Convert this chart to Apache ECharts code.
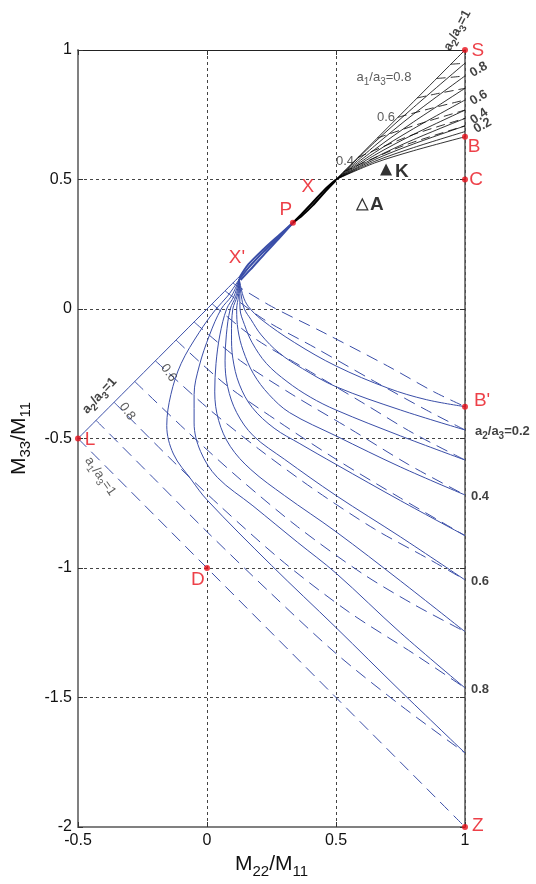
<!DOCTYPE html>
<html>
<head>
<meta charset="utf-8">
<script src="https://cdn.jsdelivr.net/npm/echarts/dist/echarts.min.js"></script>
<style>
html, body { margin: 0; padding: 0; background: #fff; }
#chart { width: 536px; height: 884px; }
</style>
</head>
<body>
<div id="chart"></div>
<script>
// axis ranges
var xRange = [-0.5, 1];
var yRange = [-2, 1];
var tickStep = 0.5;

// upper (black) fan, solid lines a2/a3 = const, ending at x = 1
var blackS10 = [[0.5, 0.5], [0.75, 0.75], [1, 1]];
var blackS09 = [[0.5, 0.5], [0.65, 0.644], [0.8, 0.778], [1, 0.949]];
var blackS08 = [[0.5, 0.5], [0.65, 0.630], [0.8, 0.752], [1, 0.900]];
var blackS07 = [[0.5, 0.5], [0.65, 0.616], [0.8, 0.722], [1, 0.852]];
var blackS06 = [[0.5, 0.5], [0.65, 0.604], [0.8, 0.696], [1, 0.807]];
var blackS05 = [[0.5, 0.5], [0.65, 0.594], [0.8, 0.674], [1, 0.768]];
var blackS04 = [[0.5, 0.5], [0.65, 0.584], [0.8, 0.654], [1, 0.736]];
var blackS03 = [[0.5, 0.5], [0.65, 0.577], [0.8, 0.637], [1, 0.707]];
var blackS02 = [[0.5, 0.5], [0.65, 0.570], [0.8, 0.623], [1, 0.685]];
var blackS01 = [[0.5, 0.5], [0.65, 0.564], [0.8, 0.611], [1, 0.665]];
// upper fan, dashed lines a1/a3 = const
var blackD09 = [[0.945, 0.945], [1, 0.949]];
var blackD08 = [[0.89, 0.89], [0.95, 0.895], [1, 0.900]];
var blackD07 = [[0.815, 0.815], [0.9, 0.833], [1, 0.852]];
var blackD06 = [[0.74, 0.74], [0.87, 0.775], [1, 0.807]];
var blackD05 = [[0.66, 0.66], [0.83, 0.717], [1, 0.768]];
var blackD04 = [[0.585, 0.585], [0.79, 0.67], [1, 0.736]];
var blackD03 = [[0.53, 0.53], [0.76, 0.63], [1, 0.707]];
// strand P -> fan origin
var blackStrandA = [[0.333, 0.333], [0.37, 0.37], [0.41, 0.412], [0.455, 0.46], [0.5, 0.5]];
var blackStrandB = [[0.333, 0.333], [0.37, 0.362], [0.41, 0.4], [0.455, 0.45], [0.5, 0.497]];

// lower (blue) fan, solid lines a2/a3 = const
var blueS10 = [[-0.5, -0.5], [0.125, 0.125]];
var blueS09 = [[0.125, 0.115], [0.08, 0.05], [0.035, 0.0], [-0.03, -0.09], [-0.1, -0.21], [-0.14, -0.33], [-0.156, -0.45], [-0.13, -0.56], [-0.06, -0.66], [0, -0.737], [0.25, -0.99], [0.5, -1.23], [0.75, -1.475], [1, -1.714]];
var blueS08 = [[0.125, 0.115], [0.095, 0.05], [0.055, 0.0], [0.01, -0.1], [-0.03, -0.22], [-0.05, -0.33], [-0.05, -0.44], [-0.025, -0.55], [0.04, -0.65], [0.178, -0.76], [0.35, -0.9], [0.5, -1.02], [0.75, -1.25], [1, -1.463]];
var blueS07 = [[0.125, 0.115], [0.105, 0.05], [0.076, 0.0], [0.05, -0.1], [0.035, -0.21], [0.03, -0.32], [0.045, -0.43], [0.09, -0.53], [0.17, -0.62], [0.3, -0.72], [0.5, -0.86], [0.75, -1.05], [1, -1.246]];
var blueS06 = [[0.125, 0.115], [0.112, 0.05], [0.09, 0.0], [0.075, -0.1], [0.07, -0.2], [0.08, -0.3], [0.115, -0.4], [0.18, -0.49], [0.3, -0.58], [0.5, -0.72], [0.75, -0.88], [1, -1.046]];
var blueS05 = [[0.125, 0.115], [0.117, 0.05], [0.1, 0.0], [0.095, -0.1], [0.1, -0.19], [0.125, -0.29], [0.175, -0.38], [0.26, -0.46], [0.36, -0.52], [0.5, -0.6], [0.75, -0.74], [1, -0.875]];
var blueS04 = [[0.125, 0.115], [0.122, 0.05], [0.115, 0.0], [0.12, -0.08], [0.14, -0.16], [0.18, -0.25], [0.24, -0.33], [0.32, -0.4], [0.5, -0.49], [0.75, -0.61], [1, -0.718]];
var blueS03 = [[0.125, 0.115], [0.127, 0.05], [0.128, 0.0], [0.145, -0.06], [0.175, -0.13], [0.23, -0.21], [0.31, -0.28], [0.4, -0.34], [0.5, -0.39], [0.75, -0.49], [1, -0.583]];
var blueS02 = [[0.125, 0.115], [0.133, 0.05], [0.145, 0.0], [0.17, -0.04], [0.21, -0.1], [0.28, -0.17], [0.37, -0.23], [0.5, -0.30], [0.75, -0.39], [1, -0.467]];
var blueS01 = [[0.125, 0.115], [0.14, 0.05], [0.16, 0.01], [0.21, -0.04], [0.34, -0.13], [0.5, -0.22], [0.7, -0.305], [0.85, -0.35], [1, -0.377]];
// lower fan, dashed lines a1/a3 = const
var blueD10 = [[-0.5, -0.5], [1, -2]];
var blueD09 = [[-0.43, -0.43], [-0.2, -0.66], [0, -0.86], [0.25, -1.1], [0.5, -1.33], [0.75, -1.53], [1, -1.714]];
var blueD08 = [[-0.36, -0.36], [-0.15, -0.57], [0.05, -0.76], [0.3, -0.98], [0.55, -1.17], [0.8, -1.33], [1, -1.463]];
var blueD07 = [[-0.28, -0.28], [-0.08, -0.47], [0.12, -0.65], [0.35, -0.84], [0.6, -1.02], [0.8, -1.14], [1, -1.246]];
var blueD06 = [[-0.2, -0.2], [0, -0.38], [0.2, -0.54], [0.42, -0.7], [0.65, -0.85], [0.85, -0.96], [1, -1.046]];
var blueD05 = [[-0.12, -0.12], [0.07, -0.29], [0.27, -0.43], [0.5, -0.58], [0.75, -0.73], [1, -0.875]];
var blueD04 = [[-0.05, -0.05], [0.13, -0.2], [0.33, -0.33], [0.55, -0.46], [0.78, -0.6], [1, -0.718]];
var blueD03 = [[0.02, 0.02], [0.18, -0.11], [0.38, -0.23], [0.6, -0.36], [0.8, -0.48], [1, -0.583]];
var blueD02 = [[0.07, 0.07], [0.22, -0.04], [0.42, -0.15], [0.65, -0.28], [0.85, -0.39], [1, -0.467]];
var blueD01 = [[0.1, 0.1], [0.25, 0.01], [0.45, -0.09], [0.7, -0.22], [0.88, -0.32], [1, -0.377]];
// strand X' -> P
var blueStrandA = [[0.125, 0.12], [0.16, 0.172], [0.22, 0.232], [0.28, 0.286], [0.333, 0.333]];
var blueStrandB = [[0.125, 0.115], [0.163, 0.162], [0.222, 0.224], [0.28, 0.28], [0.333, 0.333]];
var blueStrandC = [[0.13, 0.112], [0.168, 0.152], [0.226, 0.216], [0.282, 0.276], [0.333, 0.333]];

// points
var redDots = [[1, 1], [1, 0.665], [1, 0.5], [0.333, 0.333], [1, -0.377], [-0.5, -0.5], [0, -1], [1, -2]];
var redNames = ['S', 'B', 'C', 'P', "B'", 'L', 'D', 'Z', 'X', "X'"];
var redNameX = [1.05, 1.035, 1.043, 0.306, 1.066, -0.453, -0.035, 1.05, 0.391, 0.116];
var redNameY = [0.996, 0.625, 0.498, 0.382, -0.355, -0.506, -1.046, -1.996, 0.471, 0.197];
var pointK = [0.694, 0.539];
var pointA = [0.602, 0.404];
var markNames = ['K', 'A'];
var markNameX = [0.755, 0.658];
var markNameY = [0.53, 0.402];

// curve labels: text, x, y, rotation
var boldText = ['a2/a3=1', '0.8', '0.6', '0.4', '0.2', 'a2/a3=0.2', '0.4', '0.6', '0.8', 'a2/a3=1'];
var boldX = [0.972, 1.054, 1.054, 1.056, 1.069, 1.145, 1.058, 1.058, 1.058, -0.415];
var boldY = [1.075, 0.923, 0.814, 0.742, 0.706, -0.475, -0.725, -1.053, -1.471, -0.336];
var boldRot = [62, 30, 30, 35, 30, 0, 0, 0, 0, 47];
var plainText = ['a1/a3=0.8', '0.6', '0.4', '0.8', '0.6', 'a1/a3=1'];
var plainX = [0.686, 0.694, 0.535, -0.311, -0.15, -0.415];
var plainY = [0.892, 0.737, 0.568, -0.397, -0.248, -0.647];
var plainRot = [0, 0, 0, -55, -55, -55];

var BLUE = '#3a4ea8';
var FONT = 'Liberation Sans, Arial, sans-serif';

function richText(str) {
  var out = '', re = /([aM])(\d+)/g, last = 0, m;
  while ((m = re.exec(str))) {
    out += '{m|' + str.slice(last, m.index) + m[1] + '}{s|' + m[2] + '}';
    last = re.lastIndex;
  }
  if (last < str.length) out += '{m|' + str.slice(last) + '}';
  return out;
}

function richStyle(big, small, drop, weight, color) {
  return {
    m: { fontSize: big, lineHeight: big + 1, verticalAlign: 'top', fontWeight: weight, color: color, fontFamily: FONT },
    s: { fontSize: small, lineHeight: small, padding: [drop, 0, 0, 0], verticalAlign: 'top', fontWeight: weight, color: color, fontFamily: FONT }
  };
}

var series = [];
function addLine(d, color, width, type, smooth) {
  series.push({
    type: 'line', data: d, showSymbol: false, silent: true, smooth: smooth,
    lineStyle: { color: color, width: width, type: type }, z: 3
  });
}

[blackS10, blackS09, blackS08, blackS07, blackS06, blackS05, blackS04, blackS03, blackS02, blackS01]
  .forEach(function (d) { addLine(d, '#000', 0.8, 'solid', 0.3); });
[blackD09, blackD08, blackD07, blackD06, blackD05, blackD04, blackD03]
  .forEach(function (d) { addLine(d, '#000', 0.8, [9, 5], 0.3); });
[blackStrandA, blackStrandB].forEach(function (d) { addLine(d, '#000', 2, 'solid', 0.3); });

[blueS10, blueS09, blueS08, blueS07, blueS06, blueS05, blueS04, blueS03, blueS02, blueS01]
  .forEach(function (d) { addLine(d, BLUE, 1, 'solid', 0.35); });
[blueD10, blueD09, blueD08, blueD07, blueD06, blueD05, blueD04, blueD03, blueD02, blueD01]
  .forEach(function (d) { addLine(d, BLUE, 1, [12, 7], 0.3); });
[blueStrandA, blueStrandB, blueStrandC].forEach(function (d) { addLine(d, BLUE, 2, 'solid', 0.3); });

function textItems(texts, xs, ys, rots) {
  return texts.map(function (t, i) {
    return { value: [xs[i], ys[i]], label: { formatter: richText(t), rotate: rots ? rots[i] : 0 } };
  });
}

series.push({
  type: 'scatter', symbolSize: 0, clip: false, silent: true, z: 6,
  data: textItems(boldText, boldX, boldY, boldRot),
  label: { show: true, position: 'inside', rich: richStyle(13, 10, 6, 'bold', '#111') }
});
series.push({
  type: 'scatter', symbolSize: 0, clip: false, silent: true, z: 6,
  data: textItems(plainText, plainX, plainY, plainRot),
  label: { show: true, position: 'inside', rich: richStyle(13, 10, 6, 'normal', '#333') }
});

series.push({
  type: 'scatter', symbol: 'circle', symbolSize: 6, clip: false, silent: true, z: 7,
  itemStyle: { color: '#e8101a' }, data: redDots
});
series.push({
  type: 'scatter', symbolSize: 0, clip: false, silent: true, z: 7,
  data: redNames.map(function (n, i) { return { name: n, value: [redNameX[i], redNameY[i]] }; }),
  label: { show: true, position: 'inside', formatter: '{b}', color: '#e8101a', fontSize: 19, fontFamily: FONT }
});
series.push({
  type: 'scatter', symbol: 'triangle', symbolSize: 12, silent: true, z: 7,
  itemStyle: { color: '#000' }, data: [pointK]
});
series.push({
  type: 'scatter', symbol: 'triangle', symbolSize: 11, silent: true, z: 7,
  itemStyle: { color: '#fff', borderColor: '#000', borderWidth: 1.2 }, data: [pointA]
});
series.push({
  type: 'scatter', symbolSize: 0, clip: false, silent: true, z: 7,
  data: markNames.map(function (n, i) { return { name: n, value: [markNameX[i], markNameY[i]] }; }),
  label: { show: true, position: 'inside', formatter: '{b}', color: '#000', fontSize: 19, fontWeight: 'bold', fontFamily: FONT }
});

var tickLabel = { color: '#111', fontSize: 16, fontFamily: FONT, margin: 6 };
var split = { show: true, lineStyle: { color: '#444', width: 1, type: [3, 3] } };
var ticksIn = { show: true, inside: true, length: 5, lineStyle: { color: '#333' } };

var option = {
  animation: false,
  backgroundColor: '#fff',
  grid: { left: 78, right: 71, top: 50, bottom: 57 },
  xAxis: [{
    type: 'value', position: 'bottom', min: xRange[0], max: xRange[1], interval: tickStep,
    axisLine: { onZero: false, lineStyle: { color: '#808080', width: 2 } },
    axisTick: ticksIn, axisLabel: tickLabel, splitLine: split,
    name: richText('M22/M11'), nameLocation: 'middle', nameGap: 22,
    nameTextStyle: { rich: richStyle(21, 15, 10, 'normal', '#111') }
  }, {
    type: 'value', position: 'top', min: xRange[0], max: xRange[1], interval: tickStep,
    axisLine: { onZero: false, lineStyle: { color: '#222', width: 1 } },
    axisTick: ticksIn, axisLabel: { show: false }, splitLine: { show: false }
  }],
  yAxis: [{
    type: 'value', position: 'left', min: yRange[0], max: yRange[1], interval: tickStep,
    axisLine: { show: true, onZero: false, lineStyle: { color: '#808080', width: 2 } },
    axisTick: ticksIn, axisLabel: tickLabel, splitLine: split,
    name: richText('M33/M11'), nameLocation: 'middle', nameGap: 45,
    nameTextStyle: { rich: richStyle(21, 15, 10, 'normal', '#111') }
  }, {
    type: 'value', position: 'right', min: yRange[0], max: yRange[1], interval: tickStep,
    axisLine: { show: true, onZero: false, lineStyle: { color: '#555', width: 1.5 } },
    axisTick: ticksIn, axisLabel: { show: false }, splitLine: { show: false }
  }],
  series: series
};

var chart = echarts.init(document.getElementById('chart'), null, { renderer: 'canvas' });
chart.setOption(option);
</script>
</body>
</html>
